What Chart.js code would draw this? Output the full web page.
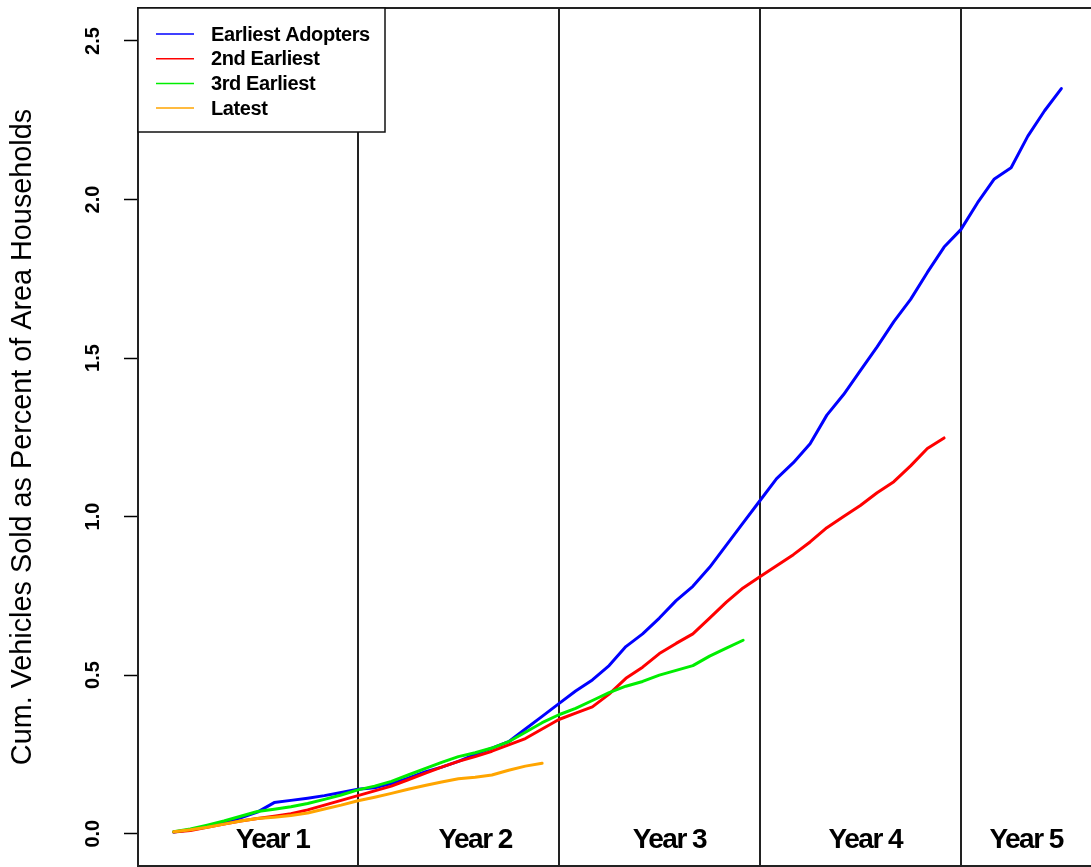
<!DOCTYPE html>
<html>
<head>
<meta charset="utf-8">
<script src="https://cdn.jsdelivr.net/npm/chart.js@4.4.1/dist/chart.umd.min.js"></script>
<style>
  html, body { margin: 0; padding: 0; background: #fff; overflow: hidden; }
  canvas { display: block; }
</style>
</head>
<body>
<canvas id="c" width="1100" height="867"></canvas>
<script>
// Cumulative vehicles sold, as percent of area households, by month since launch
const SERIES_LABELS = ['Earliest Adopters', '2nd Earliest', '3rd Earliest', 'Latest'];

const earliestAdopters = [
  0.005, 0.012, 0.022, 0.035, 0.050, 0.068, 0.098, 0.105, 0.112, 0.120,
  0.130, 0.140, 0.145, 0.158, 0.175, 0.195, 0.210, 0.228, 0.250, 0.270,
  0.290, 0.330, 0.370, 0.410, 0.450, 0.485, 0.530, 0.590, 0.630, 0.680,
  0.735, 0.780, 0.840, 0.910, 0.980, 1.050, 1.120, 1.170, 1.230, 1.320,
  1.385, 1.460, 1.535, 1.615, 1.685, 1.770, 1.850, 1.905, 1.990, 2.065,
  2.100, 2.200, 2.280, 2.350
];
const secondEarliest = [
  0.005, 0.010, 0.020, 0.030, 0.040, 0.048, 0.055, 0.063, 0.075, 0.090,
  0.105, 0.120, 0.135, 0.150, 0.170, 0.190, 0.210, 0.228, 0.243, 0.260,
  0.280, 0.300, 0.330, 0.360, 0.380, 0.400, 0.440, 0.490, 0.525, 0.568,
  0.600, 0.630, 0.680, 0.730, 0.775, 0.810, 0.845, 0.880, 0.920, 0.965,
  1.000, 1.035, 1.075, 1.110, 1.160, 1.215, 1.248
];
const thirdEarliest = [
  0.006, 0.015, 0.027, 0.040, 0.055, 0.070, 0.077, 0.085, 0.095, 0.108,
  0.122, 0.138, 0.150, 0.165, 0.185, 0.205, 0.225, 0.243, 0.255, 0.270,
  0.290, 0.320, 0.350, 0.375, 0.395, 0.420, 0.445, 0.465, 0.480, 0.500,
  0.515, 0.530, 0.560, 0.585, 0.610
];
const latest = [
  0.006, 0.012, 0.020, 0.030, 0.040, 0.048, 0.052, 0.057, 0.065, 0.078,
  0.090, 0.104, 0.115, 0.127, 0.140, 0.152, 0.163, 0.173, 0.178, 0.185,
  0.200, 0.213, 0.222
];

// Year boundaries (month index) and year label names
const YEAR_BOUNDARIES = [12, 24, 36, 48];
const YEAR_LABELS = ['Year 1', 'Year 2', 'Year 3', 'Year 4', 'Year 5'];
const YEAR_LABEL_MONTHS = [6.9, 19.0, 30.6, 42.3, 51.9];

const Y_TICK_STEP = 0.5;
const Y_TITLE = 'Cum. Vehicles Sold as Percent of Area Households';

const COLORS = ['#0000FF', '#FF0000', '#00EE00', '#FFA500'];
const seriesValues = [earliestAdopters, secondEarliest, thirdEarliest, latest];

const toPoints = arr => arr.map((v, i) => ({ x: i + 1, y: v }));

const datasets = seriesValues.map((vals, k) => ({
  label: SERIES_LABELS[k],
  data: toPoints(vals),
  borderColor: COLORS[k],
  backgroundColor: COLORS[k],
  borderWidth: 3,
  pointRadius: 0,
  tension: 0,
  fill: false,
  borderJoinStyle: 'round',
  borderCapStyle: 'round',
  order: seriesValues.length - k
}));

// Plot frame drawn around the chart area
const framePlugin = {
  id: 'frame',
  beforeDatasetsDraw(chart) {
    const { ctx, chartArea: a } = chart;
    ctx.save();
    ctx.strokeStyle = '#222';
    ctx.lineWidth = 2;
    ctx.strokeRect(a.left, a.top, a.right - a.left, a.bottom - a.top);
    ctx.restore();
  }
};

// Year names along the bottom of each yearly panel
const yearLabelPlugin = {
  id: 'yearLabels',
  afterDatasetsDraw(chart) {
    const { ctx, scales: { x, y } } = chart;
    ctx.save();
    ctx.fillStyle = '#000';
    ctx.font = 'bold 28px "Liberation Sans", Arial, sans-serif';
    if ('letterSpacing' in ctx) ctx.letterSpacing = '-1.5px';
    ctx.textAlign = 'center';
    ctx.textBaseline = 'alphabetic';
    const base = y.getPixelForValue(0) + 14;
    YEAR_LABELS.forEach((t, i) => {
      ctx.fillText(t, x.getPixelForValue(YEAR_LABEL_MONTHS[i]), base);
    });
    ctx.restore();
  }
};

// Boxed legend in the top-left corner of the plot
const boxLegendPlugin = {
  id: 'boxLegend',
  afterDraw(chart) {
    const { ctx, chartArea: a } = chart;
    const boxW = 247, boxH = 124;
    ctx.save();
    ctx.fillStyle = '#fff';
    ctx.fillRect(a.left, a.top, boxW, boxH);
    ctx.strokeStyle = '#111';
    ctx.lineWidth = 1.5;
    ctx.strokeRect(a.left, a.top, boxW, boxH);
    ctx.font = 'bold 20px "Liberation Sans", Arial, sans-serif';
    if ('letterSpacing' in ctx) ctx.letterSpacing = '-0.4px';
    ctx.textBaseline = 'middle';
    ctx.textAlign = 'left';
    chart.data.datasets.forEach((ds, i) => {
      const yy = a.top + 26 + i * 24.7;
      ctx.strokeStyle = ds.borderColor;
      ctx.lineWidth = 1.5;
      ctx.beginPath();
      ctx.moveTo(a.left + 18, yy);
      ctx.lineTo(a.left + 56, yy);
      ctx.stroke();
      ctx.fillStyle = '#000';
      ctx.fillText(ds.label, a.left + 73, yy + 1);
    });
    ctx.restore();
  }
};

new Chart(document.getElementById('c'), {
  type: 'line',
  data: { datasets },
  options: {
    responsive: false,
    animation: false,
    events: [],
    layout: { padding: { top: 8, right: 3, bottom: 1, left: 0 } },
    plugins: { legend: { display: false }, tooltip: { enabled: false } },
    scales: {
      x: {
        type: 'linear',
        min: -1.13,
        max: 56.13,
        afterBuildTicks: s => { s.ticks = YEAR_BOUNDARIES.map(v => ({ value: v })); },
        afterFit: s => { s.height = 0; s.paddingLeft = 0; s.paddingRight = 0; },
        ticks: { display: false },
        grid: { color: '#222', lineWidth: 2, drawTicks: false },
        border: { display: false }
      },
      y: {
        type: 'linear',
        min: -0.102,
        max: 2.604,
        afterFit: s => { s.width = 138; s.paddingTop = 0; s.paddingBottom = 0; },
        ticks: {
          stepSize: Y_TICK_STEP,
          includeBounds: false,
          minRotation: 90,
          maxRotation: 90,
          crossAlign: 'center',
          padding: 17,
          color: '#000',
          font: { family: '"Liberation Sans", Arial, sans-serif', size: 20, weight: 'bold' },
          callback: v => Number(v).toFixed(1)
        },
        grid: { drawOnChartArea: false, drawTicks: true, tickLength: 14, tickColor: '#000', tickWidth: 1.5 },
        border: { display: false },
        title: {
          display: true,
          text: Y_TITLE,
          color: '#000',
          font: { family: '"Liberation Sans", Arial, sans-serif', size: 28.8, weight: 'normal' },
          padding: { top: 6, bottom: 0 }
        }
      }
    }
  },
  plugins: [framePlugin, yearLabelPlugin, boxLegendPlugin]
});
</script>
</body>
</html>
